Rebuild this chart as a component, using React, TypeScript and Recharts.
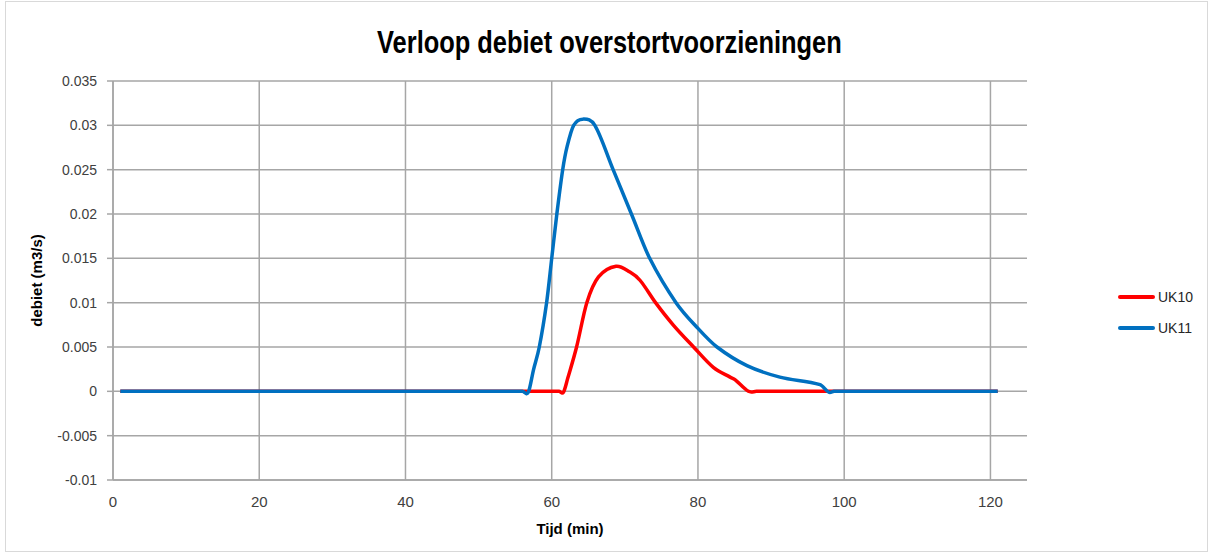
import React from "react";
import { LineChart, Line, XAxis, YAxis, CartesianGrid, Label } from "recharts";

// tijd (min) en debiet (m3/s)
const uk10Time = [1, 61.0, 61.6, 62.2, 63.4, 64.8, 66.4, 68.8, 70.7, 72.1, 74.2, 76.6, 79.4, 82.1, 84.4, 85.1, 86.9, 88, 121];
const uk10Flow = [0, 0, -0.0001, 0.0015, 0.005, 0.01, 0.0129, 0.0141, 0.01345, 0.0125, 0.01, 0.0075, 0.005, 0.0027, 0.0016, 0.0013, 0, 0, 0];

const uk11Time = [1, 56, 56.8, 57.5, 58.3, 59.3, 60.0, 60.7, 61.5, 62.1, 63.0, 64.25, 65.9, 68.4, 70.9, 73.4, 77.0, 80, 82.6, 86.7, 91.2, 96.7, 97.9, 98.6, 99.5, 121];
const uk11Flow = [0, 0, -0.0001, 0.0024, 0.005, 0.01, 0.015, 0.02, 0.025, 0.0276, 0.03, 0.0307, 0.03, 0.025, 0.02, 0.015, 0.01, 0.0071, 0.005, 0.0029, 0.0016, 0.00075, -0.0001, 0, 0, 0];

const xTicks = [0, 20, 40, 60, 80, 100, 120];
const yTicks = [-0.01, -0.005, 0, 0.005, 0.01, 0.015, 0.02, 0.025, 0.03, 0.035];

const series = [
  { name: "UK10", color: "#ff0000", data: uk10Time.map((t, i) => ({ t, v: uk10Flow[i] })) },
  { name: "UK11", color: "#0070c0", data: uk11Time.map((t, i) => ({ t, v: uk11Flow[i] })) },
];

const sans = "'Liberation Sans', Arial, sans-serif";
const narrow = "'Liberation Sans Narrow', 'Arial Narrow', 'Liberation Sans', sans-serif";

// vloeiende lijn zoals Excel's "smoothed line": cubic hermite met centrale helling
function smoothCurve(context: any) {
  let xs: number[] = [];
  let ys: number[] = [];
  return {
    areaStart() {},
    areaEnd() {},
    lineStart() {
      xs = [];
      ys = [];
    },
    point(x: number, y: number) {
      xs.push(+x);
      ys.push(+y);
    },
    lineEnd() {
      const n = xs.length;
      if (!n) return;
      context.moveTo(xs[0], ys[0]);
      const m = xs.map((_, i) => {
        const a = Math.max(0, i - 1);
        const b = Math.min(n - 1, i + 1);
        return xs[b] === xs[a] ? 0 : (ys[b] - ys[a]) / (xs[b] - xs[a]);
      });
      for (let i = 0; i < n - 1; i++) {
        const h = xs[i + 1] - xs[i];
        context.bezierCurveTo(
          xs[i] + h / 3,
          ys[i] + (m[i] * h) / 3,
          xs[i + 1] - h / 3,
          ys[i + 1] - (m[i + 1] * h) / 3,
          xs[i + 1],
          ys[i + 1]
        );
      }
    },
  };
}

function SideLegend() {
  return (
    <div style={{ position: "absolute", left: 1118, top: 281, fontFamily: sans, fontSize: 14, color: "#262626" }}>
      {series.map((s) => (
        <div key={s.name} style={{ display: "flex", alignItems: "center", height: 31 }}>
          <span style={{ display: "inline-block", width: 37, height: 4, borderRadius: 2, background: s.color, marginRight: 3 }} />
          <span>{s.name}</span>
        </div>
      ))}
    </div>
  );
}

export default function App() {
  return (
    <div style={{ position: "fixed", left: 0, top: 0, width: 1211, height: 555, background: "#fff" }}>
      <div style={{ position: "absolute", left: 5, top: 1, width: 1201, height: 549, border: "1px solid #d9d9d9" }} />
      <div
        style={{
          position: "absolute",
          left: 0,
          top: 25,
          width: 1219,
          textAlign: "center",
          fontFamily: narrow,
          fontWeight: 700,
          fontSize: 31,
          lineHeight: "36px",
          color: "#000",
          transform: "scaleX(0.82)",
          transformOrigin: "609px 0",
        }}
      >
        Verloop debiet overstortvoorzieningen
      </div>
      <LineChart width={1211} height={555} margin={{ top: 81, right: 184, bottom: 45, left: 53 }} style={{ position: "absolute", left: 0, top: 0 }}>
        <CartesianGrid stroke="#a6a6a6" strokeWidth={1.5} horizontalValues={yTicks} verticalValues={xTicks} />
        <XAxis
          type="number"
          dataKey="t"
          domain={[0, 125]}
          ticks={xTicks}
          allowDataOverflow
          height={30}
          axisLine={{ stroke: "#a6a6a6", strokeWidth: 1.5 }}
          tickLine={false}
          tickSize={6}
          tickMargin={10}
          tick={{ fill: "#404040", fontSize: 15, fontFamily: narrow }}
        >
          <Label value="Tijd (min)" position="bottom" offset={13} style={{ fontFamily: narrow, fontWeight: 700, fontSize: 15, fill: "#000" }} />
        </XAxis>
        <YAxis
          type="number"
          domain={[-0.01, 0.035]}
          ticks={yTicks}
          width={60}
          axisLine={{ stroke: "#a6a6a6", strokeWidth: 1.5 }}
          tickLine={{ stroke: "#a6a6a6", strokeWidth: 1.5 }}
          tickSize={6}
          tickMargin={10}
          tick={{ fill: "#404040", fontSize: 14, fontFamily: sans }}
        >
          <Label
            value="debiet (m3/s)"
            angle={-90}
            position="insideLeft"
            offset={-16}
            style={{ textAnchor: "middle", fontFamily: sans, fontWeight: 700, fontSize: 15, fill: "#000" }}
          />
        </YAxis>
        {series.map((s) => (
          <Line
            key={s.name}
            data={s.data}
            dataKey="v"
            name={s.name}
            type={smoothCurve as any}
            stroke={s.color}
            strokeWidth={3.5}
            dot={false}
            isAnimationActive={false}
          />
        ))}
      </LineChart>
      <SideLegend />
    </div>
  );
}
